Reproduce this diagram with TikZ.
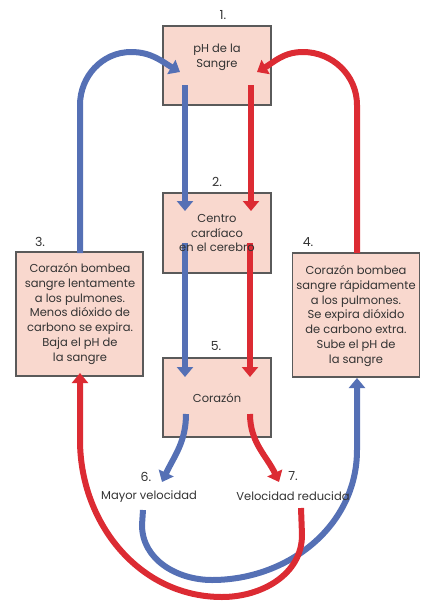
\documentclass[tikz,border=0pt]{standalone}
\usepackage{fontspec}
\setmainfont{Poppins}
\usetikzlibrary{arrows.meta,calc}
\definecolor{boxfill}{HTML}{F9D8CE}
\definecolor{boxline}{HTML}{5A5A5A}
\definecolor{bl}{HTML}{5570B5}
\definecolor{rd}{HTML}{DC2B33}
\definecolor{txt}{HTML}{333333}
\tikzset{
  box/.style={draw=boxline, line width=1.3pt, fill=boxfill, minimum width=108pt, inner sep=0pt},
  bigbox/.style={box, minimum width=127pt, minimum height=124pt},
  flow/.style={line width=6pt, -{Triangle[width=16pt,length=10pt]}},
  bflow/.style={flow, bl},
  rflow/.style={flow, rd},
  lbl/.style={text=txt, font=\fontsize{12.5}{14}\selectfont, inner sep=0pt},
  btxt/.style={text=txt, font=\fontsize{11.5}{14.7}\selectfont, align=center, inner sep=0pt},
}
\begin{document}
\begin{tikzpicture}[x=1pt,y=-1pt]
\useasboundingbox (0,0) rectangle (427,603);
% boxes
\node[box, minimum height=79pt] (b1) at (217,65.5) {};
\node[box, minimum height=80pt] (b2) at (217,233) {};
\node[bigbox] (b3) at (79.5,314) {};
\node[bigbox] (b4) at (356,315) {};
\node[box, minimum height=79pt] (b5) at (217,397.5) {};
% named ends
\coordinate (t1l) at (180,72);
\coordinate (t1r) at (257,72);
\coordinate (s1b) at (185,85);
\coordinate (s1r) at (251,85);
\coordinate (t2b) at (185,211);
\coordinate (t2r) at (251,211);
\coordinate (s2b) at (185,243);
\coordinate (s2r) at (250,243);
\coordinate (t5b) at (185,377);
\coordinate (t5r) at (250,377);
\coordinate (s5b) at (186,414);
\coordinate (s5r) at (250,414);
\coordinate (t6) at (162,482);
\coordinate (t7) at (279,482);
\coordinate (s3) at (80,253);
\coordinate (s4) at (357,253);
\coordinate (t3) at (80,373);
\coordinate (t4) at (357,378);
\coordinate (s6) at (143,510);
\coordinate (s7) at (301,508);
% top loops
\draw[bflow] (s3) -- (80,105) to[out=90,in=180] (131,52) to[out=0,in=150] (t1l);
\draw[rflow] (s4) -- (357,105) to[out=90,in=0] (303,52) to[out=180,in=30] (t1r);
% straight arrows
\draw[bflow] (s1b) -- (t2b);
\draw[rflow] (s1r) -- (t2r);
\draw[bflow] (s2b) -- (t5b);
\draw[rflow] (s2r) -- (t5r);
% from heart
\draw[bflow] (s5b) to[out=-90,in=65] (t6);
\draw[rflow] (s5r) to[out=-90,in=115] (t7);
% bottom loops
\draw[bflow] (s6) -- (142,525) to[out=-90,in=180] (212,580) to[out=0,in=-90] (357,450) -- (t4);
\draw[rflow] (s7) -- (302,535) to[out=-90,in=0] (222,597) to[out=180,in=-90] (80,440) -- (t3);
% texts
\node[btxt] (x1) at (217,57) {pH de la\\Sangre};
\node[btxt] (x2) at (217,233) {Centro\\cardíaco\\en el cerebro};
\node[btxt] (x3) at (80,314) {Corazón bombea\\sangre lentamente\\a los pulmones.\\Menos dióxido de\\carbono se expira.\\Baja el pH de\\la sangre};
\node[btxt] (x4) at (356,316) {Corazón bombea\\sangre rápidamente\\a los pulmones.\\Se expira dióxido\\de carbono extra.\\Sube el pH de\\la sangre};
\node[btxt] (x5) at (217,398) {Corazón};
\node[lbl] (n1) at (223,15) {1.};
\node[lbl] (n2) at (217,182) {2.};
\node[lbl] (n3) at (40,242) {3.};
\node[lbl] (n4) at (308,242) {4.};
\node[lbl] (n5) at (216,346) {5.};
\node[lbl] (n6) at (146,477) {6.};
\node[lbl] (n7) at (293,476) {7.};
\node[btxt] (l6) at (149,497) {Mayor velocidad};
\node[btxt] (l7) at (293,496) {Velocidad reducida};
\end{tikzpicture}
\end{document}
